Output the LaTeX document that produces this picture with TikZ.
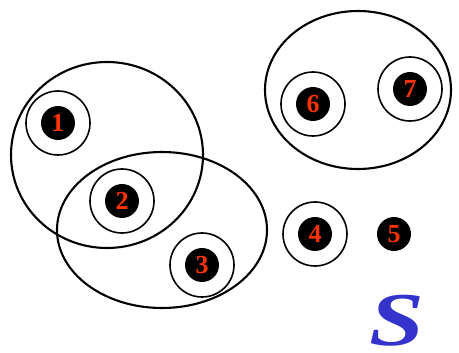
\documentclass[tikz,border=0pt]{standalone}
\usepackage{fontspec}
\newfontfamily\numfont{Liberation Serif}
\usepackage{tikz}
\definecolor{numred}{RGB}{255,51,0}
\definecolor{sblue}{RGB}{52,52,204}
\tikzset{
  dot/.style={circle, fill=black, minimum size=34pt, inner sep=0pt, text=numred, font=\numfont\bfseries\fontsize{26}{26}\selectfont},
  ring/.style={circle, draw=black, line width=1.6pt, minimum size=64pt, inner sep=0pt},
  blob/.style={line width=2.1pt}
}

\begin{document}
\begin{tikzpicture}[x=1pt, y=-1pt]
  \useasboundingbox (0,0) rectangle (459,353);

  % Elements with their rings
  \node[dot] (n1) at (58,123) {1};
  \node[ring] (r1) at (n1) {};
  \node[dot] (n2) at (122,201) {2};
  \node[ring] (r2) at (n2) {};
  \node[dot] (n3) at (202,265) {3};
  \node[ring] (r3) at (n3) {};
  \node[dot] (n4) at (315,234) {4};
  \node[ring] (r4) at (n4) {};
  \node[dot] (n5) at (394,234) {5};
  \node[dot] (n6) at (313,104) {6};
  \node[ring] (r6) at (n6) {};
  \node[dot] (n7) at (410,89) {7};
  \node[ring] (r7) at (n7) {};

  % Subsets
  \draw[blob] (107,155) ellipse [x radius=96, y radius=93];
  \draw[blob] (162,230) ellipse [x radius=105, y radius=78];
  \draw[blob] (358,90) ellipse [x radius=93, y radius=79];

  % Set label
  \node[text=sblue, inner sep=0pt, anchor=base, xscale=1.3, font=\numfont\bfseries\itshape\fontsize{76}{76}\selectfont] (lbl) at (397,345) {S};
\end{tikzpicture}
\end{document}
